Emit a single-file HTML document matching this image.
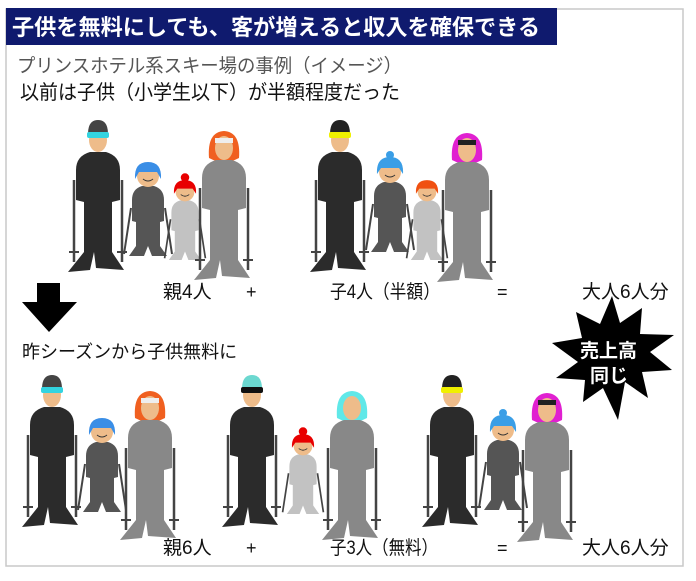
<!DOCTYPE html>
<html><head><meta charset="utf-8"><style>
body{margin:0;background:#fff;}
svg{display:block}
text{font-family:"Liberation Sans","Noto Sans CJK JP",sans-serif;}
</style></head><body>
<svg width="696" height="581" viewBox="0 0 696 581" xmlns="http://www.w3.org/2000/svg">
<defs>
<g id="ab">
<line x1="-24" y1="40" x2="-24" y2="122" stroke="#444" stroke-width="2.5"/>
<line x1="24" y1="40" x2="24" y2="122" stroke="#444" stroke-width="2.5"/>
<line x1="-29" y1="112" x2="-19" y2="112" stroke="#444" stroke-width="2"/>
<line x1="19" y1="112" x2="29" y2="112" stroke="#444" stroke-width="2"/>
<path d="M-8,12 L8,12 Q22,16 22,30 L22,60 L14,62 L14,112 L26,130 L-2,128 L-4,112 L-8,130 L-30,132 L-14,112 L-14,62 L-22,60 L-22,30 Q-22,16 -8,12 Z"/>
</g>
<g id="kb">
<line x1="-17" y1="32" x2="-24" y2="78" stroke="#444" stroke-width="2"/>
<line x1="17" y1="32" x2="24" y2="78" stroke="#444" stroke-width="2"/>
<path d="M-6,10 L6,10 Q16,13 16,24 L16,45 L12,46 L12,70 L19,80 L4,80 L0,70 L-4,80 L-19,80 L-12,70 L-12,46 L-16,45 L-16,24 Q-16,13 -6,10 Z"/>
</g>
<g id="face"><ellipse cx="0" cy="0" rx="9" ry="12" fill="#eebc8a"/></g>
<g id="kface"><circle cx="0" cy="0" r="11" fill="#eebc8a"/><path d="M-5,3 Q0,7 5,3" stroke="#333" fill="none" stroke-width="1"/></g>
</defs>

<rect x="6" y="9" width="677" height="557" fill="#fff" stroke="#c8c8c8" stroke-width="1.5"/>
<rect x="6" y="8" width="551" height="37" fill="#0f1a6e"/>
<text x="12" y="35" font-size="22" font-weight="bold" fill="#fff" textLength="528" lengthAdjust="spacingAndGlyphs">子供を無料にしても、客が増えると収入を確保できる</text>
<text x="17" y="72" font-size="19" fill="#555" textLength="385" lengthAdjust="spacingAndGlyphs">プリンスホテル系スキー場の事例（イメージ）</text>
<text x="20" y="99" font-size="20" fill="#111" textLength="380" lengthAdjust="spacingAndGlyphs">以前は子供（小学生以下）が半額程度だった</text>

<!-- Row 1 group 1 -->
<g transform="translate(98,140)"><use href="#ab" fill="#2b2b2b"/><use href="#face"/><path d="M-10,-6 Q-10,-20 0,-20 Q10,-20 10,-6 Z" fill="#444"/><rect x="-11" y="-8" width="22" height="6" rx="2" fill="#33d4e0"/></g>
<g transform="translate(148,176)"><use href="#kb" fill="#555"/><use href="#kface"/><path d="M-13,3 Q-14,-14 0,-14 Q14,-14 13,3 L9,-4 L-9,-4 Z" fill="#3a8ee6"/></g>
<g transform="translate(185,192) scale(0.85)"><use href="#kb" fill="#c2c2c2"/><use href="#kface"/><path d="M-13,2 Q-14,-14 0,-14 Q14,-14 13,2 L9,-4 L-9,-4 Z" fill="#e80000"/><circle cx="0" cy="-17" r="5" fill="#e80000"/></g>
<g transform="translate(224,148)"><path d="M-15,10 Q-17,-16 0,-17 Q17,-16 15,10 Q0,18 -15,10 Z" fill="#f06020"/><use href="#ab" fill="#888"/><use href="#face"/><rect x="-9" y="-10" width="18" height="5" fill="#eee"/></g>

<!-- Row 1 group 2 -->
<g transform="translate(340,140)"><use href="#ab" fill="#2b2b2b"/><use href="#face"/><path d="M-10,-6 Q-10,-20 0,-20 Q10,-20 10,-6 Z" fill="#222"/><rect x="-11" y="-8" width="22" height="6" rx="2" fill="#f0f000"/></g>
<g transform="translate(390,172)"><use href="#kb" fill="#555"/><use href="#kface"/><path d="M-13,2 Q-14,-15 0,-15 Q14,-15 13,2 L9,-4 L-9,-4 Z" fill="#3a9ee6"/><circle cx="0" cy="-17" r="4" fill="#3a9ee6"/></g>
<g transform="translate(427,192) scale(0.85)"><use href="#kb" fill="#c2c2c2"/><use href="#kface"/><path d="M-13,2 Q-14,-14 0,-14 Q14,-14 13,2 L9,-4 L-9,-4 Z" fill="#f05010"/></g>
<g transform="translate(467,150)"><path d="M-15,10 Q-17,-16 0,-17 Q17,-16 15,10 Q0,18 -15,10 Z" fill="#e020d0"/><use href="#ab" fill="#888"/><use href="#face"/><rect x="-9" y="-10" width="18" height="5" fill="#222"/></g>

<text x="163" y="298" font-size="19" fill="#111">親4人</text>
<text x="246" y="298" font-size="18" fill="#111">+</text>
<text x="330" y="298" font-size="19" fill="#111" textLength="110" lengthAdjust="spacingAndGlyphs">子4人（半額）</text>
<text x="497" y="298" font-size="18" fill="#111">=</text>
<text x="582" y="298" font-size="19" fill="#111">大人6人分</text>

<path d="M37,283 H60 V302 H77 L49,332 L22,302 H37 Z" fill="#000"/>
<text x="22" y="358" font-size="18" fill="#111">昨シーズンから子供無料に</text>

<path d="M612,296 L620,323 L642,308 L640,334 L674,335 L650,352 L672,370 L642,372 L648,398 L625,382 L618,420 L603,388 L583,402 L585,380 L556,378 L578,362 L552,343 L582,338 L576,312 L600,324 Z" fill="#000"/>
<text x="580" y="357" font-size="19" font-weight="bold" fill="#fff">売上高</text>
<text x="590" y="382" font-size="19" font-weight="bold" fill="#fff">同じ</text>

<!-- Row 2 group 1 -->
<g transform="translate(52,395)"><use href="#ab" fill="#2b2b2b"/><use href="#face"/><path d="M-10,-6 Q-10,-20 0,-20 Q10,-20 10,-6 Z" fill="#444"/><rect x="-11" y="-8" width="22" height="6" rx="2" fill="#33d4e0"/></g>
<g transform="translate(102,432)"><use href="#kb" fill="#555"/><use href="#kface"/><path d="M-13,3 Q-14,-14 0,-14 Q14,-14 13,3 L9,-4 L-9,-4 Z" fill="#3a8ee6"/></g>
<g transform="translate(150,408)"><path d="M-15,10 Q-17,-16 0,-17 Q17,-16 15,10 Q0,18 -15,10 Z" fill="#f06020"/><use href="#ab" fill="#888"/><use href="#face"/><rect x="-9" y="-10" width="18" height="5" fill="#eee"/></g>

<!-- Row 2 group 2 -->
<g transform="translate(252,395)"><use href="#ab" fill="#2b2b2b"/><use href="#face"/><path d="M-10,-6 Q-10,-20 0,-20 Q10,-20 10,-6 Z" fill="#6cd8d0"/><rect x="-11" y="-8" width="22" height="6" rx="2" fill="#111"/></g>
<g transform="translate(303,446) scale(0.85)"><use href="#kb" fill="#c2c2c2"/><use href="#kface"/><path d="M-13,2 Q-14,-14 0,-14 Q14,-14 13,2 L9,-4 L-9,-4 Z" fill="#e80000"/><circle cx="0" cy="-17" r="5" fill="#e80000"/></g>
<g transform="translate(352,408)"><path d="M-15,10 Q-17,-16 0,-17 Q17,-16 15,10 Q0,18 -15,10 Z" fill="#60e8e8"/><use href="#ab" fill="#888"/><use href="#face"/></g>

<!-- Row 2 group 3 -->
<g transform="translate(452,395)"><use href="#ab" fill="#2b2b2b"/><use href="#face"/><path d="M-10,-6 Q-10,-20 0,-20 Q10,-20 10,-6 Z" fill="#222"/><rect x="-11" y="-8" width="22" height="6" rx="2" fill="#f0f000"/></g>
<g transform="translate(503,430)"><use href="#kb" fill="#555"/><use href="#kface"/><path d="M-13,2 Q-14,-15 0,-15 Q14,-15 13,2 L9,-4 L-9,-4 Z" fill="#3a9ee6"/><circle cx="0" cy="-17" r="4" fill="#3a9ee6"/></g>
<g transform="translate(547,410)"><path d="M-15,10 Q-17,-16 0,-17 Q17,-16 15,10 Q0,18 -15,10 Z" fill="#e020d0"/><use href="#ab" fill="#888"/><use href="#face"/><rect x="-9" y="-10" width="18" height="5" fill="#222"/></g>

<text x="163" y="554" font-size="19" fill="#111">親6人</text>
<text x="246" y="554" font-size="18" fill="#111">+</text>
<text x="330" y="554" font-size="19" fill="#111" textLength="108" lengthAdjust="spacingAndGlyphs">子3人（無料）</text>
<text x="497" y="554" font-size="18" fill="#111">=</text>
<text x="582" y="554" font-size="19" fill="#111">大人6人分</text>
</svg>
</body></html>
